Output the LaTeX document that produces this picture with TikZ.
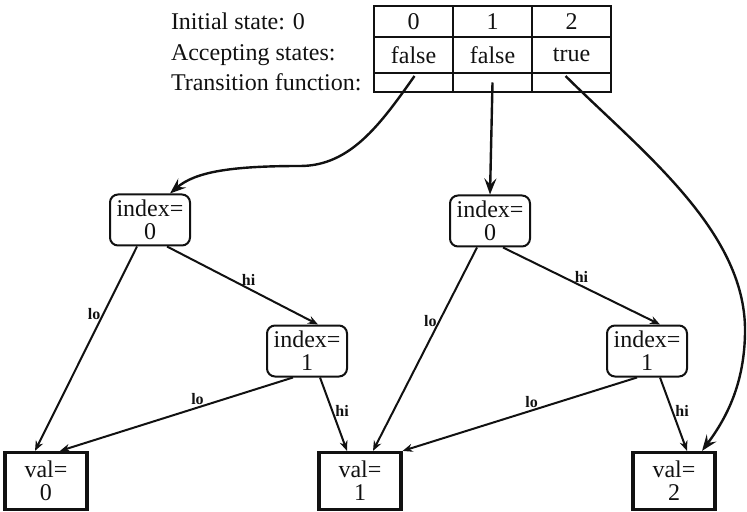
\documentclass[tikz,border=0pt]{standalone}
\usepackage{fontspec}
\setmainfont{Liberation Serif}
\usetikzlibrary{arrows.meta,positioning,calc,matrix}
\definecolor{ink}{HTML}{111111}
\tikzset{
  every picture/.style={line width=1pt, draw=ink, text=ink, font=\fontsize{12}{11.5}\selectfont},
  testnode/.style={draw=ink, rounded corners=4pt, align=center, minimum width=40pt, minimum height=25.5pt, inner sep=1pt},
  leafnode/.style={draw=ink, line width=1.6pt, align=center, minimum width=41pt, minimum height=28.5pt, inner sep=1pt},
  rowlbl/.style={anchor=west, inner sep=0pt},
  tag/.style={font=\fontsize{8}{8}\selectfont\bfseries, inner sep=1pt},
  link/.style={-{Stealth[length=5pt,width=4pt]}, draw=ink},
  jump/.style={-{Stealth[length=8pt,width=6pt,inset=3pt]}, draw=ink, line width=1.2pt},
}

\begin{document}
\begin{tikzpicture}[x=0.5pt, y=-0.5pt]
\useasboundingbox (0,0) rectangle (747,512);
% automaton table
\matrix[matrix of nodes, nodes in empty cells, anchor=north west, inner sep=0pt,
  column sep=-1pt, row sep=-1pt,
  nodes={draw=ink, minimum width=39.5pt, inner sep=1pt, anchor=center},
  row 1/.style={nodes={minimum height=15.5pt}},
  row 2/.style={nodes={minimum height=18pt}},
  row 3/.style={nodes={minimum height=9.5pt}}] (tab) at (372,4) {
  0 & 1 & 2 \\
  false & false & true \\
  & & \\
};
\coordinate (lblx) at (170,0);
\node[rowlbl] (init) at (tab-1-1 -| lblx) {Initial state: 0};
\node[rowlbl] (acc) at (tab-2-1 -| lblx) {Accepting states:};
\node[rowlbl] (trans) at (tab-3-1 -| lblx) {Transition function:};
% decision nodes
\node[testnode] (i0L) at (150,220) {index=\\0};
\node[testnode] (i0M) at (490,221) {index=\\0};
\node[testnode] (i1L) at (307,351) {index=\\1};
\node[testnode] (i1R) at (647,351) {index=\\1};
\node[leafnode] (v0) at (46,481) {val=\\0};
\node[leafnode] (v1) at (360,481) {val=\\1};
\node[leafnode] (v2) at (674,481) {val=\\2};
% transitions
\draw[jump] ($(tab-3-1.north)+(1,4)$) .. controls (380,125) and (350,166) .. (300,166)
  .. controls (230,166) and (195,172) .. ($(i0L.north)+(20,0)$);
\draw[jump] (tab-3-2.center) -- (i0M.north);
\draw[jump] ($(tab-3-3.north)+(-6,4)$) .. controls (640,150) and (745,230) .. (745,330)
  .. controls (745,385) and (725,420) .. ($(v2.north)+(28,0)$);
% lo / hi edges
\draw[link] ($(i0L.south)+(-13,0)$) -- node[tag, pos=0.33, left] {lo} ($(v0.north)+(-11,0)$);
\draw[link] ($(i0L.south)+(17,0)$) -- node[tag, pos=0.54, above] {hi} ($(i1L.north)+(11,0)$);
\draw[link] ($(i1L.south)+(-14,0)$) -- node[tag, pos=0.41, above] {lo} ($(v0.north)+(14,0)$);
\draw[link] ($(i1L.south)+(13,0)$) -- node[tag, pos=0.46, right] {hi} ($(v1.north)+(-13,0)$);
\draw[link] ($(i0M.south)+(-13,0)$) -- node[tag, pos=0.36, left] {lo} ($(v1.north)+(13,0)$);
\draw[link] ($(i0M.south)+(13,0)$) -- node[tag, pos=0.5, above] {hi} ($(i1R.north)+(13,0)$);
\draw[link] ($(i1R.south)+(-10,0)$) -- node[tag, pos=0.45, above] {lo} (v1.north east);
\draw[link] ($(i1R.south)+(13,0)$) -- node[tag, pos=0.46, right] {hi} ($(v2.north)+(13,0)$);
\end{tikzpicture}
\end{document}
